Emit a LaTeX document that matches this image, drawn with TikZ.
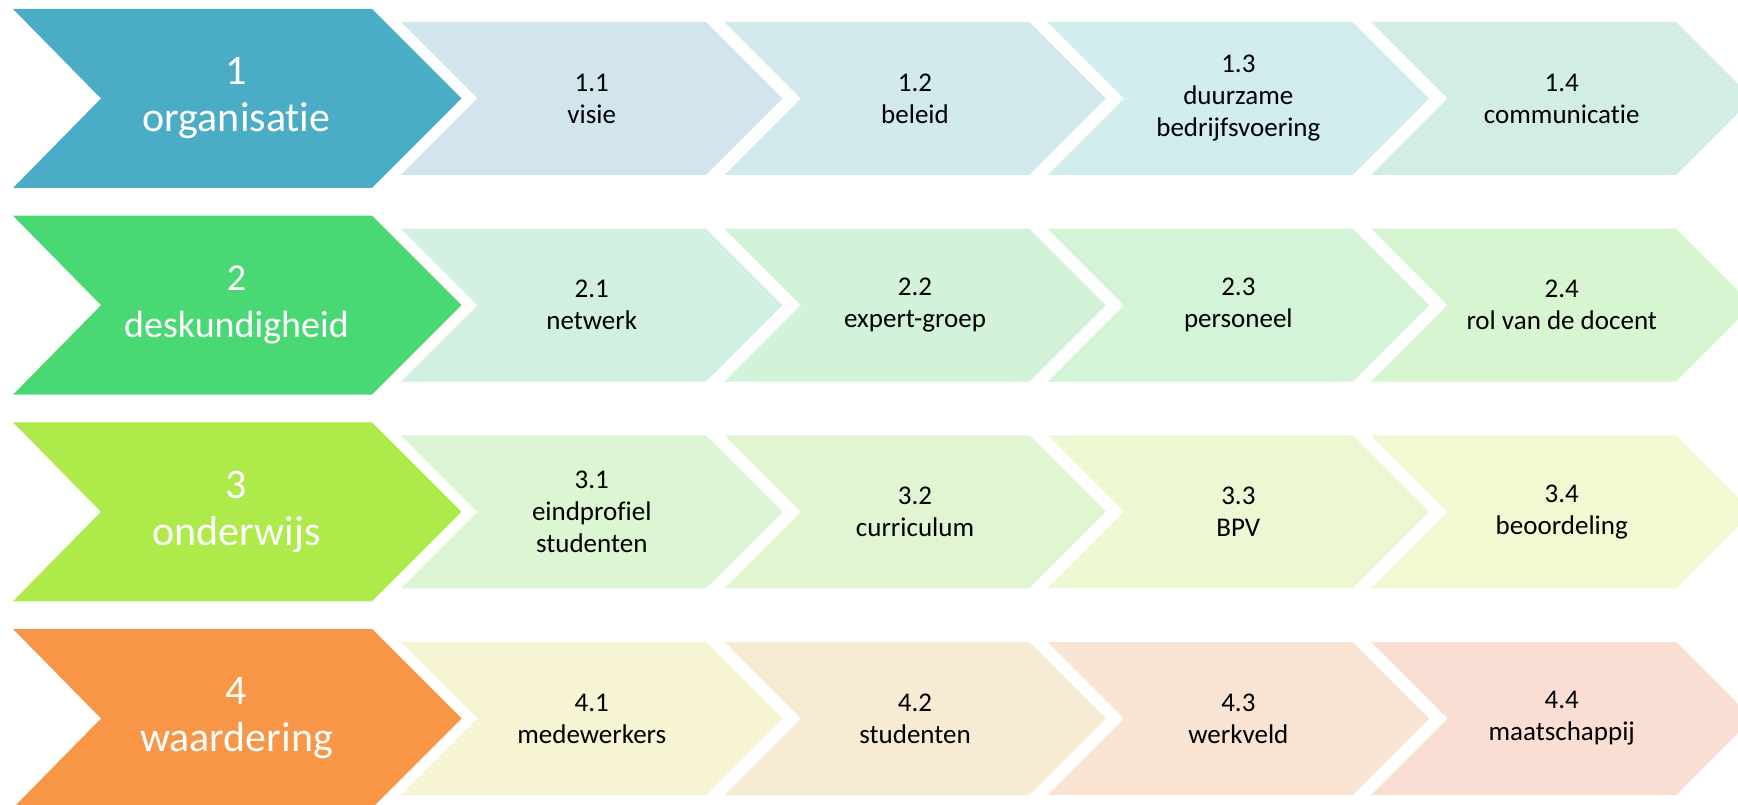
\documentclass[tikz,border=0pt]{standalone}
\usepackage{fontspec}
\setmainfont{Carlito}[Ligatures={NoCommon,NoContextual}]
\definecolor{bigA}{HTML}{4BACC6}
\definecolor{bigB}{HTML}{4AD874}
\definecolor{bigC}{HTML}{ADEA4A}
\definecolor{bigD}{HTML}{F79646}
\definecolor{sAa}{HTML}{D2E4EC}
\definecolor{sAb}{HTML}{D2EAEC}
\definecolor{sAc}{HTML}{D2EDED}
\definecolor{sAd}{HTML}{D2EEE4}
\definecolor{sBa}{HTML}{D2F0E2}
\definecolor{sBb}{HTML}{D2F2DA}
\definecolor{sBc}{HTML}{D3F4D6}
\definecolor{sBd}{HTML}{D8F5D1}
\definecolor{sCa}{HTML}{DCF5D2}
\definecolor{sCb}{HTML}{E2F5D2}
\definecolor{sCc}{HTML}{EDF7D2}
\definecolor{sCd}{HTML}{F3F7D2}
\definecolor{sDa}{HTML}{F6F4D2}
\definecolor{sDb}{HTML}{F8EBD4}
\definecolor{sDc}{HTML}{F9E4D4}
\definecolor{sDd}{HTML}{FADED4}
\tikzset{
  bigtext/.style={text=white, align=center, inner sep=0pt, font=\fontsize{42}{47}\selectfont},
  bigtextsm/.style={bigtext, font=\fontsize{38}{47}\selectfont},
  smalltext/.style={text=black, align=center, inner sep=0pt, font=\fontsize{27}{32}\selectfont}
}
\newcommand\bigchevron[5][bigtext]{% [style] row center y, colour, name, text
  \fill[#3] (13,#2+89.5) -- (372,#2+89.5) -- (461.5,#2) -- (372,#2-89.5) -- (13,#2-89.5) -- (101,#2) -- cycle;
  \node[#1] (#4) at (236.5,#2) {#5};
}
\newcommand\smallchevron[5]{% row center y, left x, colour, name, text
  \fill[#3] (#2,#1+76.5) -- (#2+305,#1+76.5) -- (#2+381.5,#1) -- (#2+305,#1-76.5) -- (#2,#1-76.5) -- (#2+76.5,#1) -- cycle;
  \node[smalltext] (#4) at (#2+190.75,#1) {#5};
}
\begin{document}
\begin{tikzpicture}[x=1pt,y=1pt]
\useasboundingbox (0,0) rectangle (1738,804);
\clip (0,0) rectangle (1738,804);
\fill[white] (0,0) rectangle (1738,804);
% row 1
\bigchevron{705.5}{bigA}{r1}{1\\organisatie}
\smallchevron{705.5}{401}{sAa}{r11}{1.1\\visie}
\smallchevron{705.5}{724.3}{sAb}{r12}{1.2\\beleid}
\smallchevron{705.5}{1047.6}{sAc}{r13}{1.3\\duurzame\\bedrijfsvoering}
\smallchevron{705.5}{1371}{sAd}{r14}{1.4\\communicatie}
% row 2
\bigchevron[bigtextsm]{498.8}{bigB}{r2}{2\\deskundigheid}
\smallchevron{498.8}{401}{sBa}{r21}{2.1\\netwerk}
\smallchevron{498.8}{724.3}{sBb}{r22}{2.2\\expert-groep}
\smallchevron{498.8}{1047.6}{sBc}{r23}{2.3\\personeel}
\smallchevron{498.8}{1371}{sBd}{r24}{2.4\\rol van de docent}
% row 3
\bigchevron{292.2}{bigC}{r3}{3\\onderwijs}
\smallchevron{292.2}{401}{sCa}{r31}{3.1\\eindprofiel\\studenten}
\smallchevron{292.2}{724.3}{sCb}{r32}{3.2\\curriculum}
\smallchevron{292.2}{1047.6}{sCc}{r33}{3.3\\BPV}
\smallchevron{292.2}{1371}{sCd}{r34}{3.4\\beoordeling}
% row 4
\bigchevron{85.5}{bigD}{r4}{4\\waardering}
\smallchevron{85.5}{401}{sDa}{r41}{4.1\\medewerkers}
\smallchevron{85.5}{724.3}{sDb}{r42}{4.2\\studenten}
\smallchevron{85.5}{1047.6}{sDc}{r43}{4.3\\werkveld}
\smallchevron{85.5}{1371}{sDd}{r44}{4.4\\maatschappij}
\end{tikzpicture}
\end{document}
